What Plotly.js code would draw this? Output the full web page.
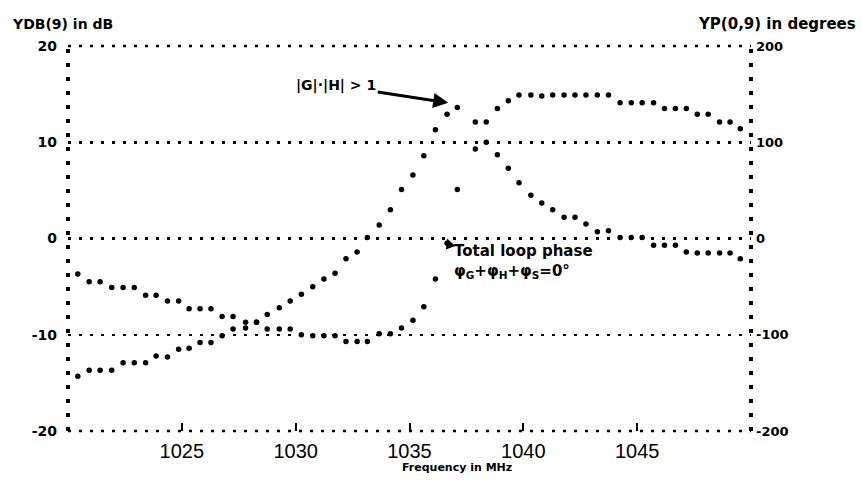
<!DOCTYPE html>
<html>
<head>
<meta charset="utf-8">
<script src="https://cdn.plot.ly/plotly-3.0.1.min.js"></script>
<style>
  html, body { margin: 0; padding: 0; background: #ffffff; }
  #chart { width: 862px; height: 480px; }
</style>
</head>
<body>
<div id="chart"></div>
<script>
// Frequency samples (MHz)
const freq = [
  1020.43, 1020.93, 1021.41, 1021.92, 1022.42, 1022.91, 1023.41, 1023.87, 1024.37, 1024.86,
  1025.32, 1025.80, 1026.28, 1026.77, 1027.25, 1027.80, 1028.28, 1028.75, 1029.28, 1029.76,
  1030.25, 1030.75, 1031.24, 1031.73, 1032.21, 1032.70, 1033.15, 1033.67, 1034.16, 1034.65,
  1035.15, 1035.63, 1036.14, 1036.65, 1037.10, 1037.89, 1038.37, 1038.86, 1039.34, 1039.81,
  1040.33, 1040.81, 1041.29, 1041.79, 1042.27, 1042.75, 1043.25, 1043.74, 1044.25, 1044.74,
  1045.22, 1045.72, 1046.20, 1046.68, 1047.16, 1047.64, 1048.12, 1048.62, 1049.08, 1049.53
];

// Loop gain magnitude YDB(9) in dB (left axis)
const magDb = [
  -14.3, -13.7, -13.7, -13.7, -12.9, -12.9, -12.9, -12.2, -12.3, -11.5,
  -11.4, -10.8, -10.8, -10.1, -9.4, -9.3, -8.7, -7.9, -7.2, -6.5,
  -5.8, -5.0, -4.2, -3.6, -2.1, -1.4, 0.1, 1.4, 3.0, 5.1,
  6.6, 8.6, 11.3, 12.9, 13.6, 12.1, 12.1, 8.7, 7.3, 5.8,
  4.5, 3.7, 3.0, 2.2, 2.2, 1.5, 0.7, 0.8, 0.1, 0.1,
  0.1, -0.7, -0.7, -0.7, -1.4, -1.5, -1.5, -1.5, -1.5, -2.1
];

// Total loop phase YP(0,9) in degrees (right axis)
const phaseDeg = [
  -37, -45, -45, -51, -51, -51, -59, -59, -65, -65,
  -73, -73, -73, -81, -81, -87, -87, -94, -94, -94,
  -100, -101, -101, -101, -107, -107, -107, -99, -99, -93,
  -85, -71, -42, -5, 51, 93, 100, 135, 143, 149,
  149, 148, 149, 149, 149, 149, 149, 149, 141, 141,
  141, 141, 135, 135, 135, 129, 129, 121, 121, 114
];

// Tick labels
const freqTicks = [1025, 1030, 1035, 1040, 1045];
const dbTicks = [-20, -10, 0, 10, 20];
const degTicks = [-200, -100, 0, 100, 200];

function bold(size) {
  return {family: 'DejaVu Sans', size: size, color: '#000', weight: 'bold'};
}

const traces = [
  {
    x: freq, y: magDb, type: 'scatter', mode: 'markers',
    marker: {color: '#000', size: 5.5}, yaxis: 'y', hoverinfo: 'skip'
  },
  {
    x: freq, y: phaseDeg, type: 'scatter', mode: 'markers',
    marker: {color: '#000', size: 5.5}, yaxis: 'y2', hoverinfo: 'skip'
  }
];

const dotted = {color: '#000', width: 2.5, dash: '3px,8px'};
const axisDots = {color: '#000', width: 4, dash: '4px,10px'};

const layout = {
  width: 862, height: 480, autosize: false,
  margin: {l: 68, r: 111, t: 46, b: 49, pad: 0},
  paper_bgcolor: '#fff', plot_bgcolor: '#fff',
  showlegend: false,
  xaxis: {
    range: [1020, 1050], tickmode: 'array', tickvals: freqTicks,
    ticktext: freqTicks.map(String),
    ticks: 'inside', ticklen: 8, tickwidth: 2, tickcolor: '#000',
    showgrid: false, zeroline: false, showline: false,
    tickfont: {family: 'Liberation Sans', size: 20, color: '#000'},
    ticklabelstandoff: 6
  },
  yaxis: {
    range: [-20, 20], tickmode: 'array', tickvals: dbTicks,
    ticktext: dbTicks.map(String),
    ticks: '', showgrid: true, gridcolor: '#000', gridwidth: 2.5,
    griddash: '3px,8px', zeroline: false, showline: false,
    tickfont: bold(14),
    ticklabelstandoff: 10
  },
  yaxis2: {
    range: [-200, 200], overlaying: 'y', side: 'right', tickmode: 'array',
    tickvals: degTicks, ticktext: degTicks.map(String),
    ticks: '', showgrid: false, zeroline: false, showline: false,
    tickfont: bold(13),
    ticklabelstandoff: 4
  },
  shapes: [
    {type: 'line', xref: 'paper', yref: 'paper', x0: 0, x1: 0, y0: 0, y1: 1, line: axisDots},
    {type: 'line', xref: 'paper', yref: 'paper', x0: 1, x1: 1, y0: 0, y1: 1, line: axisDots},
    {type: 'line', xref: 'paper', yref: 'paper', x0: 0, x1: 1, y0: 1, y1: 1, line: dotted},
    {type: 'line', xref: 'paper', yref: 'paper', x0: 0, x1: 1, y0: 0, y1: 0, line: dotted}
  ],
  annotations: [
    {text: 'YDB(9) in dB', xref: 'paper', yref: 'paper', x: -0.085, y: 1.058,
     xanchor: 'left', yanchor: 'middle', showarrow: false, font: bold(14)},
    {text: 'YP(0,9) in degrees', xref: 'paper', yref: 'paper', x: 1.157, y: 1.058,
     xanchor: 'right', yanchor: 'middle', showarrow: false, font: bold(15)},
    {text: 'Frequency in MHz', xref: 'paper', yref: 'paper', x: 0.57, y: -0.095,
     xanchor: 'center', yanchor: 'middle', showarrow: false, font: bold(11)},
    {text: '|G|·|H| > 1', x: 1036.7, y: 14.1, xref: 'x', yref: 'y',
     showarrow: true, ax: -112, ay: -17, arrowhead: 2, arrowsize: 1, arrowwidth: 3,
     arrowcolor: '#000', standoff: 0, font: bold(14)},
    {text: 'Total loop phase<br>φ<sub>G</sub>+φ<sub>H</sub>+φ<sub>S</sub>=0°',
     x: 1036.85, y: -0.2, xref: 'x', yref: 'y', xanchor: 'left', yanchor: 'top',
     align: 'left', showarrow: false, font: bold(15)},
    {text: ' ', x: 1036.65, y: 0, xref: 'x', yref: 'y', showarrow: true,
     ax: 6, ay: 16, arrowhead: 2, arrowsize: 1, arrowwidth: 2, arrowcolor: '#000'}
  ]
};

Plotly.newPlot('chart', traces, layout, {staticPlot: true, displayModeBar: false});
</script>
</body>
</html>
